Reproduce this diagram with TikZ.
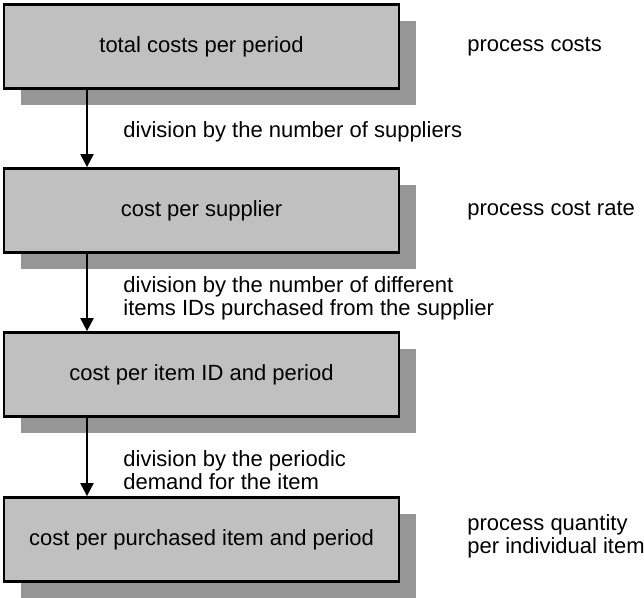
\documentclass[tikz,border=0pt]{standalone}
\usepackage{fontspec}
\setmainfont{Liberation Sans}
\usetikzlibrary{arrows.meta,shadows}

\definecolor{boxgray}{RGB}{192,192,192}
\definecolor{shadegray}{RGB}{150,150,150}

\begin{document}
\begin{tikzpicture}[x=0.5pt, y=-0.5pt,
      box/.style={draw, line width=1.35pt, fill=boxgray, minimum width=197.5pt, minimum height=42pt,
                  inner sep=0pt, font=\fontsize{11}{11.5}\selectfont,
                  drop shadow={shadow xshift=8.25pt, shadow yshift=-8.25pt, fill=shadegray, opacity=1}},
      lbl/.style={anchor=west, align=left, inner sep=0pt, font=\fontsize{11}{11.5}\selectfont},
      ar/.style={-{Triangle[length=6.5pt, width=6.5pt]}, line width=1pt}
    ]
    \useasboundingbox (0,0) rectangle (644,598);
    \node[box] (total)     at (201.5,46.5)  {total costs per period};
    \node[box] (supplier)  at (201.5,210.5) {cost per supplier};
    \node[box] (itemid)    at (201.5,374.5) {cost per item ID and period};
    \node[box] (purchased) at (201.5,539.5) {cost per purchased item and period};
    % division steps
    \node[lbl] (divsup) at (123,132)   {division by the number of suppliers};
    \node[lbl] (divid)  at (123,298.5) {division by the number of different\\items IDs purchased from the supplier};
    \node[lbl] (divdem) at (123,470)   {division by the periodic\\demand for the item};
    % process terms
    \node[lbl] (pcosts) at (467,46.5)  {process costs};
    \node[lbl] (prate)  at (467,211)   {process cost rate};
    \node[lbl] (pqty)   at (467,536)   {process quantity\\per individual item};
    \draw[ar] (total.south -| 87,0)    -- (supplier.north -| 87,0);
    \draw[ar] (supplier.south -| 87,0) -- (itemid.north -| 87,0);
    \draw[ar] (itemid.south -| 87,0)   -- (purchased.north -| 87,0);
  \end{tikzpicture}
\end{document}
